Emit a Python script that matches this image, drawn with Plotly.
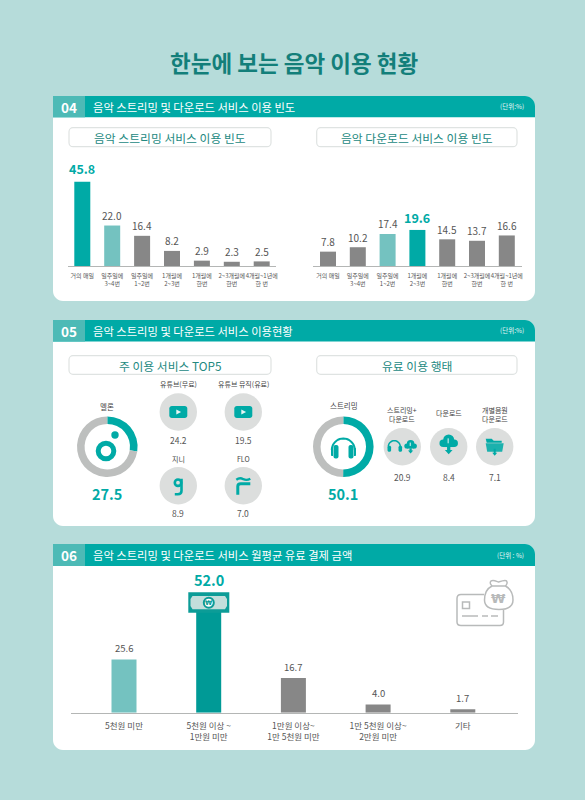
import math
import plotly.graph_objects as go

# ---------- data ----------
freq_labels_a = ["거의 매일", "일주일에<br>3~4번", "일주일에<br>1~2번", "1개월에<br>2~3번", "1개월에<br>한번", "2~3개월에<br>한번", "4개월~1년에<br>한 번"]
stream_freq = [45.8, 22.0, 16.4, 8.2, 2.9, 2.3, 2.5]
download_freq = [7.8, 10.2, 17.4, 19.6, 14.5, 13.7, 16.6]
pay_labels = ["5천원 미만", "5천원 이상 ~<br>1만원 미만", "1만원 이상~<br>1만 5천원 미만", "1만 5천원 이상~<br>2만원 미만", "기타"]
pay_values = [25.6, 52.0, 16.7, 4.0, 1.7]
melon_share = 27.5
streaming_share = 50.1
top_services = [("유튜브(무료)", 24.2), ("유튜브 뮤직(유료)", 19.5), ("지니", 8.9), ("FLO", 7.0)]
paid_forms = [("스트리밍+<br>다운로드", 20.9), ("다운로드", 8.4), ("개별음원<br>다운로드", 7.1)]

# ---------- style ----------
W, H = 585, 800
WX = 583  # horizontal extent used for the page coordinate system
BG = "#b6dcda"
TEAL = "#00aaa6"
DARKTEAL = "#009a96"
LIGHT = "#74c2c0"
GRAY = "#878787"
RING = "#bdbfbe"
DISC = "#dcdedd"
TXT = "#555555"
FONT = "Noto Sans CJK KR"

fig = go.Figure()
shapes, annos = [], []


def text(x, y, s, size, color=TXT, bold=False, anchor="center", family=FONT):
    annos.append(dict(x=x, y=y, xref="x", yref="y", text=f"<b>{s}</b>" if bold else s, showarrow=False,
                      font=dict(size=size, color=color, family=family), xanchor=anchor, yanchor="middle"))


def path(d, fill=None, line=None, lw=0, layer="above"):
    shapes.append(dict(type="path", xref="x", yref="y", path=d, fillcolor=fill or "rgba(0,0,0,0)",
                       line=dict(color=line or "rgba(0,0,0,0)", width=lw), layer=layer))


def rect(x0, y0, x1, y1, fill=None, line=None, lw=0, layer="above"):
    shapes.append(dict(type="rect", xref="x", yref="y", x0=x0, y0=y0, x1=x1, y1=y1, fillcolor=fill or "rgba(0,0,0,0)",
                       line=dict(color=line or "rgba(0,0,0,0)", width=lw), layer=layer))


def circle(cx, cy, r, fill=None, line=None, lw=0, layer="above"):
    shapes.append(dict(type="circle", xref="x", yref="y", x0=cx - r, y0=cy - r, x1=cx + r, y1=cy + r,
                       fillcolor=fill or "rgba(0,0,0,0)", line=dict(color=line or "rgba(0,0,0,0)", width=lw), layer=layer))


def arc_pts(cx, cy, r, a0, a1, n=12):
    return [(cx + r * math.cos(math.radians(a0 + (a1 - a0) * i / n)),
             cy + r * math.sin(math.radians(a0 + (a1 - a0) * i / n))) for i in range(n + 1)]


def poly(pts, close=True):
    return "M" + " L".join(f"{x:.2f},{y:.2f}" for x, y in pts) + (" Z" if close else "")


def round_rect(x0, y0, x1, y1, tl=0, tr=0, br=0, bl=0):
    k = 0.45
    d = f"M{x0 + tl},{y0} L{x1 - tr},{y0} "
    d += f"C{x1 - tr * k},{y0} {x1},{y0 + tr * k} {x1},{y0 + tr} "
    d += f"L{x1},{y1 - br} C{x1},{y1 - br * k} {x1 - br * k},{y1} {x1 - br},{y1} "
    d += f"L{x0 + bl},{y1} C{x0 + bl * k},{y1} {x0},{y1 - bl * k} {x0},{y1 - bl} "
    d += f"L{x0},{y0 + tl} C{x0},{y0 + tl * k} {x0 + tl * k},{y0} {x0 + tl},{y0} Z"
    return d


def card(top, head_bottom, bottom, num, title, unit):
    L, R = 53, 535
    path(round_rect(L, top, R, bottom, 0, 10, 10, 10), fill="white", layer="below")
    path(round_rect(L, top, R, head_bottom, 0, 10, 0, 0), fill=TEAL, layer="below")
    rect(L, top, 85, head_bottom, fill="#4dbab6", layer="below")
    text(69, (top + head_bottom) / 2, num, 13.5, "white", True)
    text(91, (top + head_bottom) / 2, title, 11.3, "white", False, "left")
    text(526, (top + head_bottom) / 2 - 0.5, unit, 6.5, "#e8f6f5", False, "right")


def subtitle(x0, x1, y0, y1, s):
    path(round_rect(x0, y0, x1, y1, 4, 4, 4, 4), fill="white", line="#dfe3e2", lw=1.2, layer="below")
    text((x0 + x1) / 2, (y0 + y1) / 2, s, 11.8, "#23897f")


# ---------- background page ----------
text(294, 62, "한눈에 보는 음악 이용 현황", 22.5, "#137f7a", True)
card(96, 117.3, 301, "04", "음악 스트리밍 및 다운로드 서비스 이용 빈도", "(단위:%)")
card(320, 341.5, 526, "05", "음악 스트리밍 및 다운로드 서비스 이용현황", "(단위:%)")
card(544, 566, 750, "06", "음악 스트리밍 및 다운로드 서비스 월평균 유료 결제 금액", "(단위 : %)")
subtitle(69, 271, 127.7, 146.7, "음악 스트리밍 서비스 이용 빈도")
subtitle(316.7, 517, 127.7, 146.7, "음악 다운로드 서비스 이용 빈도")
subtitle(69, 271, 355.7, 374.3, "주 이용 서비스 TOP5")
subtitle(316.7, 517, 355.7, 374.3, "유료 이용 행태")


# full-page pixel axes for decoration
fig.add_trace(go.Scatter(x=[0], y=[0], mode="markers", marker=dict(opacity=0), hoverinfo="skip", showlegend=False))
layout = dict(
    xaxis=dict(domain=[0, 1], range=[0, WX], visible=False, fixedrange=True),
    yaxis=dict(domain=[0, 1], range=[H, 0], visible=False, fixedrange=True),
)


# ---------- bar charts ----------
def bar_chart(idx, cats, vals, colors, px_left, px_right, first, step, bar_px, base_y, top_y, scale, tick_size, standoff):
    ax = str(idx)
    low = (px_left - first) / step
    high = (px_right - first) / step
    layout[f"xaxis{ax}"] = dict(domain=[px_left / WX, px_right / WX], type="category", range=[low, high],
                                anchor=f"y{ax}", showline=True, linecolor="#b4b6b5", linewidth=1, ticks="",
                                tickfont=dict(size=tick_size, color=TXT, family=FONT), tickangle=0,
                                showgrid=False, zeroline=False, fixedrange=True, ticklabelstandoff=standoff,
                                tickmode="array", tickvals=cats, ticktext=cats)
    layout[f"yaxis{ax}"] = dict(domain=[1 - base_y / H, 1 - top_y / H], range=[0, (base_y - top_y) / scale],
                                anchor=f"x{ax}", visible=False, fixedrange=True)
    fig.add_trace(go.Bar(x=cats, y=vals, marker=dict(color=colors, line=dict(width=0)), width=bar_px / step,
                         xaxis=f"x{ax}", yaxis=f"y{ax}", showlegend=False, hoverinfo="skip", cliponaxis=False))


c1 = [TEAL, LIGHT] + [GRAY] * 5
c2 = [GRAY, GRAY, LIGHT, TEAL, GRAY, GRAY, GRAY]
c3 = [LIGHT, DARKTEAL, GRAY, GRAY, GRAY]
bar_chart(2, freq_labels_a, stream_freq, c1, 68, 276, 82.3, 29.9, 16, 266, 170, 1.84, 6, 4)
bar_chart(3, freq_labels_a, download_freq, c2, 313, 522, 328, 29.8, 16, 266, 170, 1.84, 6, 4)
bar_chart(4, pay_labels, pay_values, c3, 70.7, 518, 124, 84.7, 25, 712.7, 590, 2.08, 8.5, 5)


def value_labels(ax, cats, vals, hi, size, hi_size, norm_shift, hi_shift):
    for i, (c, v) in enumerate(zip(cats, vals)):
        is_hi = i == hi
        annos.append(dict(x=c, y=v, xref=f"x{ax}", yref=f"y{ax}", text=f"<b>{v:.1f}</b>" if is_hi else f"{v:.1f}",
                          showarrow=False, yshift=hi_shift if is_hi else norm_shift, yanchor="middle",
                          font=dict(size=hi_size if is_hi else size, color=TEAL if is_hi else TXT, family=FONT)))


value_labels(2, freq_labels_a, stream_freq, 0, 10, 12.5, 10, 13)
value_labels(3, freq_labels_a, download_freq, 3, 10, 12.5, 10, 12.5)
value_labels(4, pay_labels, pay_values, 1, 9.5, 14.5, 11, 25)

# ---------- donuts ----------
def donut(share, cx, cy, r=30.3, hole=0.75):
    fig.add_trace(go.Pie(values=[share, 100 - share], sort=False, direction="clockwise", rotation=0, hole=hole,
                         marker=dict(colors=[TEAL, RING], line=dict(width=0)), textinfo="none", hoverinfo="skip",
                         showlegend=False, domain=dict(x=[(cx - r) / WX, (cx + r) / WX], y=[1 - (cy + r) / H, 1 - (cy - r) / H])))


donut(melon_share, 107.3, 446.7)
donut(streaming_share, 343.3, 446.7)
text(107, 406, "멜론", 7.5, "#444444")
text(107, 493, f"<b>{melon_share}</b>", 14.5, TEAL)
text(343.5, 405.5, "스트리밍", 7.5, "#444444")
text(343, 493, f"<b>{streaming_share}</b>", 14.5, TEAL)

# melon logo
circle(106, 451, 7.8, line=TEAL, lw=5)
circle(115, 435, 3.7, fill=TEAL)

# headphones
path(poly(arc_pts(343.3, 450, 11.5, 180, 360, 20), close=False), line=TEAL, lw=2)
for x0, x1 in ((333.5, 338.5), (348.5, 353.5)):
    path(round_rect(x0, 445, x1, 458.5, 2, 2, 2, 2), fill=TEAL)
path(round_rect(331, 448, 333, 456, 1, 0, 0, 1), fill=TEAL)
path(round_rect(354, 448, 356, 456, 0, 1, 1, 0), fill=TEAL)

# top five service discs
svc_pos = [(178.3, 412), (243.3, 412), (178.3, 485.7), (243.3, 485.7)]
svc_lab_y = [384, 384, 458.5, 458.5]
svc_val_y = [440, 440, 513, 513]
for (cx, cy), ly, vy, (name, val) in zip(svc_pos, svc_lab_y, svc_val_y, top_services):
    circle(cx, cy, 18.7, fill=DISC)
    text(cx, ly, name, 7, "#444444")
    text(cx, vy, f"{val:.1f}", 8.5, TXT)
for cx, cy in svc_pos[:2]:
    path(round_rect(cx - 9, cy - 6, cx + 9, cy + 6, 2.5, 2.5, 2.5, 2.5), fill=TEAL)
    path(f"M{cx - 2},{cy - 2.5} L{cx + 2.8},{cy} L{cx - 2},{cy + 2.5} Z", fill="#e8f6f5")
# genie
cx, cy = svc_pos[2]
circle(cx - 0.3, cy - 3, 3.2, line=TEAL, lw=2.6)
path(f"M{cx + 3.2},{cy - 7} L{cx + 3.2},{cy + 5} Q{cx + 3.2},{cy + 8.5} {cx - 0.5},{cy + 8.5} L{cx - 3.5},{cy + 8.5}",
     line=TEAL, lw=2.6)
# FLO
cx, cy = svc_pos[3]
path(f"M{cx - 7},{cy - 6} Q{cx - 3.5},{cy - 8.5} {cx},{cy - 6.5} Q{cx + 3.5},{cy - 5} {cx + 7},{cy - 7}", line=TEAL, lw=2.4)
path(f"M{cx - 5.5},{cy + 9} L{cx - 5.5},{cy + 0.5} Q{cx - 5.5},{cy - 2} {cx - 2.5},{cy - 2} L{cx + 7},{cy - 2}", line=TEAL, lw=3)

# paid form discs
form_pos = [(402.3, 446.7), (448.7, 446.7), (494.7, 446.7)]
form_lab_y = [414, 413, 414]
for (cx, cy), ly, (name, val) in zip(form_pos, form_lab_y, paid_forms):
    circle(cx, cy, 18.7, fill=DISC)
    text(cx, ly if "<br>" in name else 413, name, 7, "#444444")
    text(cx, 476.5, f"{val:.1f}", 8.5, TXT)


def cloud(cx, cy, s=1.0):
    circle(cx - 5 * s, cy + 1 * s, 3.4 * s, fill=TEAL)
    circle(cx + 5 * s, cy + 1 * s, 3.4 * s, fill=TEAL)
    circle(cx, cy - 2 * s, 5 * s, fill=TEAL)
    rect(cx - 5 * s, cy, cx + 5 * s, cy + 4.4 * s, fill=TEAL)
    path(f"M{cx - 1.5 * s},{cy + 4 * s} L{cx + 1.5 * s},{cy + 4 * s} L{cx + 1.5 * s},{cy + 7 * s} L{cx + 3.5 * s},{cy + 7 * s} "
         f"L{cx},{cy + 11 * s} L{cx - 3.5 * s},{cy + 7 * s} L{cx - 1.5 * s},{cy + 7 * s} Z", fill=TEAL)
    path(f"M{cx - 0.5 * s},{cy - 3.5 * s} L{cx - 0.5 * s},{cy + 1 * s}", line="#e8f6f5", lw=1)


# combined icon
cx, cy = form_pos[0]
path(poly(arc_pts(cx - 8, cy, 6, 180, 360, 14), close=False), line=TEAL, lw=1.5)
for ox in (-14.8, -3.8):
    path(round_rect(cx + ox, cy - 1, cx + ox + 3.6, cy + 5, 1.5, 1.5, 1.5, 1.5), fill=TEAL)
cloud(cx + 8.3, cy - 1.5, 0.75)
# download icon
cloud(form_pos[1][0], form_pos[1][1] - 4.5, 1.1)
# folder
cx, cy = form_pos[2]
path(f"M{cx - 9},{cy - 8} L{cx - 3},{cy - 8} L{cx - 1},{cy - 6} L{cx + 7},{cy - 6} L{cx + 7},{cy - 4} L{cx - 8},{cy - 4} Z", fill=TEAL)
path(f"M{cx - 9},{cy - 3.5} L{cx + 9},{cy - 3.5} L{cx + 7.5},{cy + 5} L{cx - 7.5},{cy + 5} Z", fill="#1bb1ad")
path(f"M{cx - 1},{cy + 2} L{cx + 1},{cy + 2} L{cx + 1},{cy + 6} L{cx + 2.5},{cy + 6} L{cx},{cy + 9} L{cx - 2.5},{cy + 6} L{cx - 1},{cy + 6} Z", fill=TEAL)

# banknote on the 52.0 bar
rect(188.3, 592.3, 229.3, 612.7, fill="#0c9c97", layer="above")
path("M192.5,596 L225,596 L227,599 L227,606 L225,609.3 L192.5,609.3 L190.5,606 L190.5,599 Z", fill="#c3dedb")
circle(208.8, 602.7, 5, fill="white", line="#0c9c97", lw=2)
text(208.8, 602.7, "<b>₩</b>", 6.5, "#0c9c97", family="DejaVu Sans")

# card + money bag icon, drawn in outline
G = "#b8baba"
path("M484,594.5 L461,594.5 Q457,594.5 457,598.5 L457,622 Q457,625.5 461,625.5 L500,625.5 Q503.5,625.5 503.5,622 L503.5,610",
     line=G, lw=1.5)
rect(462.5, 602, 469.5, 608.5, line=G, lw=1.5)
path("M462,616 L478,616", line=G, lw=1.5)
path("M482,616 L488,616", line=G, lw=1.5)
path("M491,616 L498,616", line=G, lw=1.5)
path("M492,586 C486,589 484.5,594 484.5,600 C484.5,607 490,609.5 499,609.5 C508,609.5 513,607 513,600 C513,594 511,589 505.5,586 Z",
     fill="white", line=G, lw=1.5)
path("M492,586 C489,583 490,580.5 493,580.5 C495,580.5 497,581.5 498.5,582 C500,581.5 503,580.5 505,580.5 C507.5,580.5 508,583.5 505.5,586",
     line=G, lw=1.5)
text(498.8, 598.5, "<b>₩</b>", 13, G, family="DejaVu Sans")

fig.update_layout(width=W, height=H, margin=dict(l=0, r=0, t=0, b=0), paper_bgcolor=BG, plot_bgcolor="rgba(0,0,0,0)",
                  showlegend=False, font=dict(family=FONT), shapes=shapes, annotations=annos, **layout)

fig.write_html("out.html", config=dict(displayModeBar=False),
               post_script="document.body.style.margin='0';document.documentElement.style.overflow='hidden';")
